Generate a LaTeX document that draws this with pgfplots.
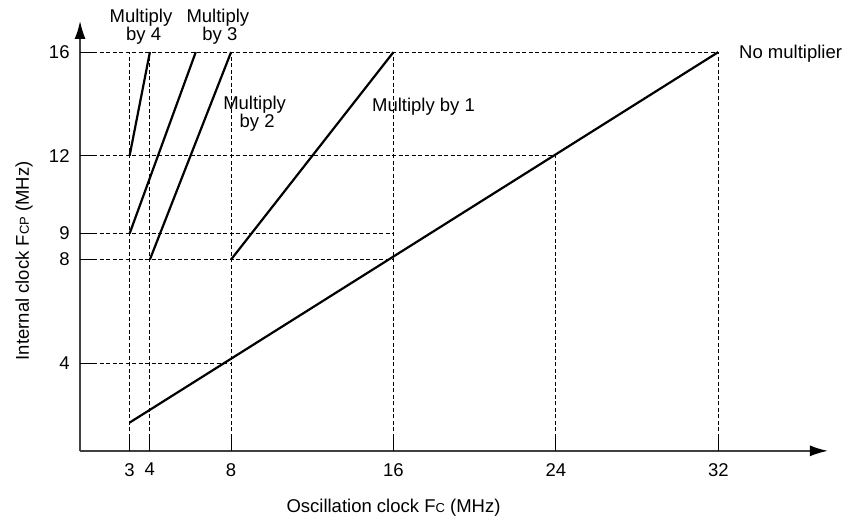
\documentclass[border=0pt]{standalone}
\usepackage{fontspec}
\setmainfont{Liberation Sans}
\usepackage{pgfplots}
\pgfplotsset{compat=1.18}
\usetikzlibrary{arrows.meta}
\newcommand\lf{\fontsize{18.5bp}{20bp}\selectfont}
\newcommand\sm{\fontsize{13bp}{13bp}\selectfont}
\begin{document}
\begin{tikzpicture}
\begin{axis}[
  scale only axis,
  width=747.9bp, height=429.9bp,
  xmin=0.56, xmax=37.4, ymin=0.62, ymax=17.2,
  axis lines=left,
  axis line style={line width=1.6bp, black!75, -{Latex[length=18bp,width=11bp,black]}},
  xtick={3,4,8,16,24,32},
  ytick={4,8,9,12,16},
  tick align=inside,
  major tick length=15bp,
  tick style={black, line width=0.9bp},
  /pgf/number format/assume math mode=true,
  tick label style={font=\lf},
  xticklabel style={yshift=-8.8bp},
  yticklabel style={xshift=-7bp},
  clip=false,
]
% dashed guide lines
\addplot[black, line width=0.9bp, dash pattern=on 4bp off 2.5bp] coordinates {(0.56,16) (32,16)};
\addplot[black, line width=0.9bp, dash pattern=on 4bp off 2.5bp] coordinates {(0.56,12) (24,12)};
\addplot[black, line width=0.9bp, dash pattern=on 4bp off 2.5bp] coordinates {(0.56,9) (16,9)};
\addplot[black, line width=0.9bp, dash pattern=on 4bp off 2.5bp] coordinates {(0.56,8) (16,8)};
\addplot[black, line width=0.9bp, dash pattern=on 4bp off 2.5bp] coordinates {(0.56,4) (8,4)};
\addplot[black, line width=0.9bp, dash pattern=on 4bp off 2.5bp] coordinates {(3,0.62) (3,16)};
\addplot[black, line width=0.9bp, dash pattern=on 4bp off 2.5bp] coordinates {(4,0.62) (4,16)};
\addplot[black, line width=0.9bp, dash pattern=on 4bp off 2.5bp] coordinates {(8,0.62) (8,16)};
\addplot[black, line width=0.9bp, dash pattern=on 4bp off 2.5bp] coordinates {(16,0.62) (16,16)};
\addplot[black, line width=0.9bp, dash pattern=on 4bp off 2.5bp] coordinates {(24,0.62) (24,12)};
\addplot[black, line width=0.9bp, dash pattern=on 4bp off 2.5bp] coordinates {(32,0.62) (32,16)};
% main lines
\addplot[black, line width=2.2bp] coordinates {(3,1.71) (32,16)};
\addplot[black, line width=2.2bp] coordinates {(8,8) (16,16)};
\addplot[black, line width=2.2bp] coordinates {(4,8) (8,16)};
\addplot[black, line width=2.2bp] coordinates {(3,9) (6.26,16)};
\addplot[black, line width=2.2bp] coordinates {(3,12) (4,16)};
% labels
\node[anchor=base, font=\lf, inner sep=0] at (axis cs:3.56,17.13) {Multiply};
\node[anchor=base, font=\lf, inner sep=0] at (axis cs:3.69,16.43) {by 4};
\node[anchor=base, font=\lf, inner sep=0] at (axis cs:7.35,17.13) {Multiply};
\node[anchor=base, font=\lf, inner sep=0] at (axis cs:7.45,16.43) {by 3};
\node[anchor=base, font=\lf, inner sep=0] at (axis cs:9.16,13.77) {Multiply};
\node[anchor=base, font=\lf, inner sep=0] at (axis cs:9.28,13.09) {by 2};
\node[anchor=base, font=\lf, inner sep=0] at (axis cs:17.48,13.71) {Multiply by 1};
\node[anchor=base west, font=\lf, inner sep=0] at (axis cs:33.02,15.77) {No multiplier};
\node[anchor=base, font=\lf, inner sep=0] at (axis cs:16,-1.77) {Oscillation clock F{\sm C} (MHz)};
\node[anchor=base, rotate=90, font=\lf, inner sep=0] at (axis cs:-1.96,7.95) {Internal clock F{\sm CP} (MHz)};
\coordinate (BL) at (axis cs:-3.384,-2.0);
\coordinate (TR) at (axis cs:38.39,18.01);
\end{axis}
\pgfresetboundingbox
\path (BL) rectangle (TR);
\end{tikzpicture}
\end{document}
